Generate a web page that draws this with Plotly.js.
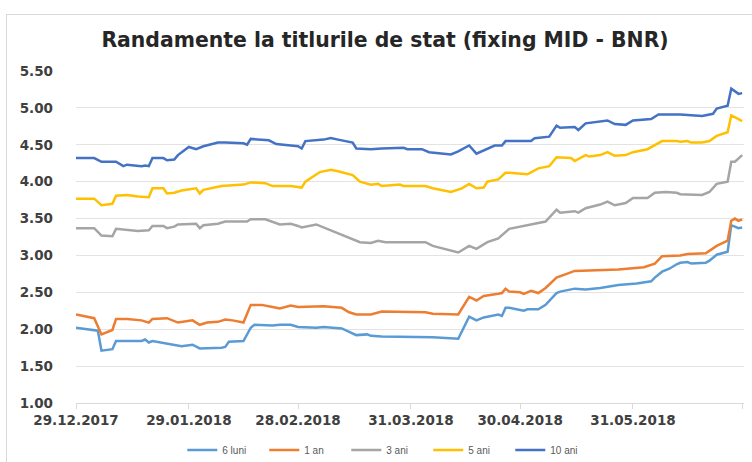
<!DOCTYPE html>
<html>
<head>
<meta charset="utf-8">
<script src="https://cdn.plot.ly/plotly-3.0.1.min.js"></script>
<style>
  html, body { margin: 0; padding: 0; background: #ffffff; }
  #frame { position: absolute; left: 6px; top: 14px; width: 800px; height: 500px; border: 1px solid #d9d9d9; }
  #chart { position: absolute; left: 0; top: 0; width: 752px; height: 462px; }
</style>
</head>
<body>
<div id="frame"></div>
<div id="chart"></div>
<script>
// ---- data ----
const titleText = "Randamente la titlurile de stat (fixing MID - BNR)";
const seriesNames = ["6 luni", "1 an", "3 ani", "5 ani", "10 ani"];
const seriesColors = ["#5B9BD5", "#ED7D31", "#A5A5A5", "#FFC000", "#4472C4"];

const tickDates = ["2017-12-29", "2018-01-29", "2018-02-28", "2018-03-31", "2018-04-30", "2018-05-31", "2018-06-30"];
const tickLabels = ["29.12.2017", "29.01.2018", "28.02.2018", "31.03.2018", "30.04.2018", "31.05.2018", ""];

const dates6luni = ["2017-12-29","2018-01-04","2018-01-05","2018-01-08","2018-01-09","2018-01-16","2018-01-17","2018-01-18","2018-01-19","2018-01-23","2018-01-27","2018-01-30","2018-02-01","2018-02-07","2018-02-08","2018-02-09","2018-02-13","2018-02-15","2018-02-16","2018-02-21","2018-02-23","2018-02-26","2018-02-28","2018-03-05","2018-03-07","2018-03-12","2018-03-14","2018-03-16","2018-03-19","2018-03-20","2018-03-23","2018-04-04","2018-04-06","2018-04-13","2018-04-16","2018-04-18","2018-04-20","2018-04-24","2018-04-25","2018-04-26","2018-04-27","2018-04-30","2018-05-01","2018-05-02","2018-05-05","2018-05-07","2018-05-10","2018-05-11","2018-05-15","2018-05-18","2018-05-22","2018-05-27","2018-06-01","2018-06-05","2018-06-06","2018-06-08","2018-06-10","2018-06-12","2018-06-13","2018-06-15","2018-06-16","2018-06-20","2018-06-21","2018-06-23","2018-06-26","2018-06-27","2018-06-29","2018-06-30"];
const values6luni = [2.02,1.98,1.71,1.73,1.84,1.84,1.86,1.82,1.84,1.80,1.77,1.79,1.74,1.75,1.76,1.83,1.84,2.02,2.06,2.05,2.06,2.06,2.03,2.02,2.03,2.01,1.96,1.92,1.93,1.91,1.90,1.90,1.89,1.87,2.17,2.12,2.16,2.20,2.18,2.29,2.29,2.26,2.25,2.27,2.27,2.33,2.49,2.51,2.55,2.54,2.56,2.60,2.62,2.65,2.70,2.78,2.82,2.88,2.90,2.91,2.89,2.90,2.93,3.01,3.05,3.41,3.37,3.38];

const dates1an = ["2017-12-29","2018-01-03","2018-01-05","2018-01-08","2018-01-09","2018-01-12","2018-01-16","2018-01-18","2018-01-19","2018-01-22","2018-01-23","2018-01-26","2018-01-30","2018-02-01","2018-02-03","2018-02-06","2018-02-08","2018-02-10","2018-02-13","2018-02-15","2018-02-18","2018-02-21","2018-02-23","2018-02-26","2018-02-28","2018-03-07","2018-03-12","2018-03-14","2018-03-16","2018-03-20","2018-03-23","2018-04-04","2018-04-06","2018-04-13","2018-04-16","2018-04-18","2018-04-20","2018-04-24","2018-04-25","2018-04-26","2018-04-27","2018-04-30","2018-05-01","2018-05-03","2018-05-05","2018-05-07","2018-05-10","2018-05-15","2018-05-22","2018-05-27","2018-06-03","2018-06-06","2018-06-08","2018-06-13","2018-06-15","2018-06-20","2018-06-23","2018-06-26","2018-06-27","2018-06-28","2018-06-29","2018-06-30"];
const values1an = [2.20,2.15,1.93,1.99,2.14,2.14,2.12,2.09,2.14,2.14,2.15,2.09,2.12,2.06,2.09,2.10,2.13,2.12,2.09,2.33,2.33,2.30,2.28,2.32,2.30,2.31,2.29,2.23,2.20,2.20,2.24,2.23,2.21,2.20,2.44,2.39,2.45,2.48,2.49,2.55,2.51,2.50,2.48,2.52,2.49,2.56,2.70,2.79,2.80,2.81,2.84,2.89,2.99,3.00,3.02,3.03,3.13,3.20,3.47,3.50,3.47,3.49];

const dates3ani = ["2017-12-29","2018-01-03","2018-01-05","2018-01-08","2018-01-09","2018-01-12","2018-01-15","2018-01-18","2018-01-19","2018-01-22","2018-01-23","2018-01-25","2018-01-26","2018-01-31","2018-02-01","2018-02-02","2018-02-06","2018-02-08","2018-02-14","2018-02-15","2018-02-19","2018-02-23","2018-02-26","2018-02-28","2018-03-01","2018-03-05","2018-03-08","2018-03-12","2018-03-15","2018-03-17","2018-03-20","2018-03-22","2018-03-24","2018-04-04","2018-04-06","2018-04-11","2018-04-13","2018-04-16","2018-04-18","2018-04-21","2018-04-24","2018-04-27","2018-04-30","2018-05-03","2018-05-07","2018-05-10","2018-05-11","2018-05-15","2018-05-16","2018-05-18","2018-05-22","2018-05-24","2018-05-26","2018-05-29","2018-05-31","2018-06-04","2018-06-06","2018-06-09","2018-06-12","2018-06-13","2018-06-19","2018-06-21","2018-06-23","2018-06-26","2018-06-27","2018-06-28","2018-06-30"];
const values3ani = [3.37,3.37,3.27,3.26,3.36,3.35,3.33,3.34,3.40,3.40,3.37,3.39,3.42,3.43,3.37,3.41,3.43,3.46,3.46,3.49,3.49,3.42,3.43,3.40,3.38,3.42,3.36,3.27,3.21,3.18,3.17,3.20,3.18,3.18,3.13,3.07,3.04,3.13,3.09,3.18,3.23,3.36,3.39,3.41,3.46,3.62,3.58,3.60,3.58,3.64,3.69,3.73,3.68,3.71,3.78,3.78,3.85,3.86,3.85,3.83,3.82,3.86,3.97,4.00,4.27,4.27,4.36];

const dates5ani = ["2017-12-29","2018-01-03","2018-01-05","2018-01-08","2018-01-09","2018-01-12","2018-01-15","2018-01-18","2018-01-19","2018-01-22","2018-01-23","2018-01-25","2018-01-27","2018-01-31","2018-02-01","2018-02-02","2018-02-07","2018-02-13","2018-02-15","2018-02-19","2018-02-21","2018-02-26","2018-03-01","2018-03-02","2018-03-06","2018-03-09","2018-03-11","2018-03-15","2018-03-17","2018-03-20","2018-03-22","2018-03-23","2018-03-28","2018-03-29","2018-04-04","2018-04-06","2018-04-11","2018-04-14","2018-04-16","2018-04-18","2018-04-20","2018-04-21","2018-04-24","2018-04-26","2018-04-27","2018-05-02","2018-05-05","2018-05-08","2018-05-10","2018-05-12","2018-05-14","2018-05-15","2018-05-18","2018-05-19","2018-05-22","2018-05-24","2018-05-26","2018-05-29","2018-05-31","2018-06-04","2018-06-06","2018-06-08","2018-06-12","2018-06-13","2018-06-15","2018-06-16","2018-06-19","2018-06-21","2018-06-23","2018-06-26","2018-06-27","2018-06-30"];
const values5ani = [3.77,3.77,3.68,3.70,3.81,3.82,3.80,3.79,3.91,3.91,3.84,3.85,3.88,3.91,3.84,3.89,3.94,3.96,3.99,3.98,3.94,3.94,3.92,4.00,4.13,4.16,4.14,4.09,4.00,3.96,3.97,3.94,3.96,3.94,3.94,3.91,3.86,3.91,3.97,3.91,3.92,4.00,4.03,4.12,4.12,4.10,4.18,4.21,4.33,4.32,4.32,4.28,4.36,4.34,4.36,4.40,4.35,4.36,4.40,4.44,4.50,4.55,4.55,4.54,4.55,4.53,4.53,4.55,4.62,4.67,4.90,4.82];

const dates10ani = ["2017-12-29","2018-01-03","2018-01-05","2018-01-09","2018-01-11","2018-01-12","2018-01-16","2018-01-17","2018-01-18","2018-01-19","2018-01-22","2018-01-23","2018-01-25","2018-01-26","2018-01-29","2018-01-31","2018-02-02","2018-02-06","2018-02-08","2018-02-13","2018-02-14","2018-02-15","2018-02-20","2018-02-22","2018-02-26","2018-02-28","2018-03-01","2018-03-02","2018-03-07","2018-03-09","2018-03-11","2018-03-14","2018-03-15","2018-03-16","2018-03-20","2018-03-23","2018-03-29","2018-03-30","2018-04-03","2018-04-05","2018-04-11","2018-04-13","2018-04-16","2018-04-18","2018-04-21","2018-04-23","2018-04-25","2018-04-26","2018-05-03","2018-05-04","2018-05-08","2018-05-10","2018-05-11","2018-05-15","2018-05-16","2018-05-18","2018-05-24","2018-05-26","2018-05-29","2018-05-31","2018-06-05","2018-06-07","2018-06-13","2018-06-19","2018-06-22","2018-06-23","2018-06-26","2018-06-27","2018-06-29","2018-06-30"];
const values10ani = [4.32,4.32,4.27,4.27,4.21,4.23,4.21,4.22,4.21,4.32,4.32,4.29,4.30,4.36,4.47,4.44,4.48,4.53,4.53,4.52,4.50,4.58,4.56,4.51,4.49,4.48,4.45,4.55,4.57,4.59,4.57,4.54,4.53,4.45,4.44,4.45,4.46,4.44,4.44,4.40,4.37,4.41,4.49,4.38,4.44,4.49,4.49,4.55,4.55,4.59,4.61,4.76,4.73,4.74,4.70,4.79,4.83,4.78,4.77,4.83,4.85,4.91,4.91,4.89,4.92,4.99,5.03,5.26,5.19,5.20];

const allDates = [dates6luni, dates1an, dates3ani, dates5ani, dates10ani];
const allValues = [values6luni, values1an, values3ani, values5ani, values10ani];

// ---- chart ----
const traces = seriesNames.map((name, i) => ({
  type: "scatter",
  mode: "lines",
  name: name,
  x: allDates[i],
  y: allValues[i],
  line: { color: seriesColors[i], width: 2.5 },
  hoverinfo: "x+y+name"
}));

const tickFont = { family: "DejaVu Sans", size: 13.5, color: "#404040", weight: "bold" };

const layout = {
  width: 752,
  height: 462,
  paper_bgcolor: "rgba(0,0,0,0)",
  plot_bgcolor: "rgba(0,0,0,0)",
  margin: { l: 76, r: 8, t: 71, b: 59 },
  title: {
    text: "<b>" + titleText + "</b>",
    font: { family: "DejaVu Sans", size: 20.4, color: "#262626" },
    x: 0.512, xanchor: "center", xref: "container",
    y: 0.913, yanchor: "middle", yref: "container"
  },
  xaxis: {
    type: "date",
    range: ["2017-12-29", "2018-06-30 12:00"],
    tickvals: tickDates,
    ticktext: tickLabels,
    tickfont: tickFont,
    ticks: "outside",
    ticklen: 5,
    tickcolor: "#d9d9d9",
    showgrid: false,
    showline: true,
    linecolor: "#d9d9d9",
    linewidth: 1,
    zeroline: false,
    fixedrange: true
  },
  yaxis: {
    range: [1.0, 5.5],
    tickvals: [1.0, 1.5, 2.0, 2.5, 3.0, 3.5, 4.0, 4.5, 5.0, 5.5],
    tickformat: ".2f",
    tickfont: tickFont,
    showgrid: true,
    gridcolor: "#e3e3e3",
    gridwidth: 1,
    zeroline: false,
    showline: false,
    ticks: "",
    ticklabelstandoff: 22,
    fixedrange: true
  },
  showlegend: true,
  legend: {
    orientation: "h",
    x: 0.515, xanchor: "center", xref: "container",
    y: 0.026, yanchor: "middle", yref: "container",
    font: { family: "Liberation Sans", size: 10, color: "#595959" },
    itemwidth: 30,
    entrywidth: 37,
    entrywidthmode: "pixels",
    bgcolor: "rgba(0,0,0,0)"
  }
};

Plotly.newPlot("chart", traces, layout, { displayModeBar: false, staticPlot: true });
</script>
</body>
</html>
